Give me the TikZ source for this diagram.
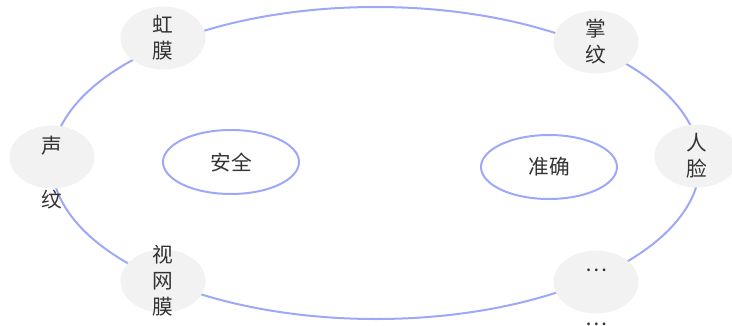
\documentclass[tikz,border=0pt]{standalone}
\usepackage{fontspec}
\usepackage{tikz}
\usetikzlibrary{shapes.geometric}
\newfontfamily\cjk{Noto Sans CJK SC}
\definecolor{ringblue}{RGB}{158,168,248}
\definecolor{bggray}{RGB}{242,242,242}
\definecolor{ink}{RGB}{51,51,51}

\begin{document}
\begin{tikzpicture}[x=0.75pt,y=-0.75pt,font=\cjk\fontsize{15.5}{19.5}\selectfont,
          bio/.style={ellipse,fill=bggray,minimum width=63.75pt,minimum height=47.25pt,inner sep=0pt},
          lbl/.style={align=center,text=ink,inner sep=0pt},
          goal/.style={ellipse,draw=ringblue,line width=1.5pt,minimum width=102pt,minimum height=48pt,text=ink}]
        \useasboundingbox (0,0) rectangle (732,325);
        % outer ring
        \node[ellipse,draw=ringblue,line width=1.5pt,minimum width=486pt,minimum height=234pt,inner sep=0pt] (ring) at (376,163) {};
        % biometric traits
        \node[bio,label={[lbl]center:虹\\膜}] (iris) at (163,38) {};
        \node[bio,label={[lbl]center:掌\\纹}] (palm) at (596,42) {};
        \node[bio,label={[lbl]center:人\\脸}] (face) at (697,156) {};
        \node[bio,label={[lbl,yshift=-11.5pt]center:…\\[21pt]…}] (more) at (596,282) {};
        \node[bio,label={[lbl]center:视\\网\\膜}] (retina) at (163,281) {};
        \node[bio,label={[lbl,yshift=-11.5pt]center:声\\[21pt]纹}] (voice) at (52,157) {};
        % goals
        \node[goal] (safe) at (231,162) {安全};
        \node[goal] (exact) at (549,167) {准确};
      \end{tikzpicture}
\end{document}
